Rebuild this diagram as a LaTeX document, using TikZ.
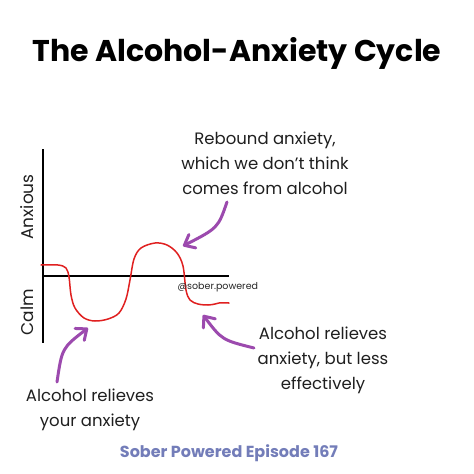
\documentclass[tikz,border=0pt]{standalone}
\usepackage{fontspec}
\setmainfont{Poppins}
\usetikzlibrary{arrows.meta}
\definecolor{curvered}{HTML}{E02020}
\definecolor{arrowpurple}{HTML}{9C4AAE}
\definecolor{episode}{HTML}{737DB9}
\tikzset{
  axisline/.style={line width=1.6pt, black},
  curveline/.style={line width=1.5pt, curvered, line cap=round, line join=round},
  callout/.style={line width=3pt, arrowpurple, line cap=round, -{Straight Barb[length=9pt,width=15pt,line width=3pt,round]}},
  label/.style={font=\fontsize{16.5}{25}\selectfont, align=center, text=black!88},
  axislabel/.style={font=\fontsize{17}{20}\selectfont, rotate=90, text=black!88},
}
\begin{document}
\begin{tikzpicture}[x=1pt,y=-1pt]
\useasboundingbox[fill=white] (0,0) rectangle (474,474);
% title
\node[font=\fontsize{30}{34}\selectfont\bfseries] (title) at (237,53) {The Alcohol-Anxiety Cycle};
% axes
\coordinate (ytop) at (43,149);
\coordinate (ybot) at (43,343);
\coordinate (xleft) at (43,276);
\coordinate (xright) at (229,276);
\draw[axisline] (ytop) -- (ybot);
\draw[axisline] (xleft) -- (xright);
\node[axislabel] (anx) at (27,207) {Anxious};
\node[axislabel] (calm) at (27,312) {Calm};
% curve
\draw[curveline] plot[smooth, tension=0.55] coordinates {
 (41,265) (58,265) (66,268) (69,277) (71,295) (75,308) (84,318) (95,321)
 (108,319) (119,313) (126,299) (130,280) (134,259) (141,248) (155,243)
 (167,245) (177,253) (183,266) (186,290) (190,300) (198,304) (208,305)
 (215,304) (219,303) (229,303)};
\node[font=\fontsize{9.5}{10}\selectfont, anchor=west, text=black!85] (handle) at (174,287) {@sober.powered};
% labels
\node[label] (rebound) at (265,163) {Rebound anxiety,\\which we don’t think\\comes from alcohol};
\node[label] (less) at (323,360) {Alcohol relieves\\anxiety, but less\\effectively};
\node[label] (relieves) at (90,410) {Alcohol relieves\\your anxiety};
\node[font=\fontsize{16}{20}\selectfont\bfseries, text=episode] (ep) at (229,453) {Sober Powered Episode 167};
% arrows
\coordinate (a1s) at (227,202); \coordinate (a1e) at (183,246);
\coordinate (a2s) at (254,348); \coordinate (a2e) at (203,315);
\coordinate (a3s) at (57,382); \coordinate (a3e) at (88,328);
\draw[callout] (a1s) .. controls (218,228) .. (a1e);
\draw[callout] (a2s) .. controls (222,340) .. (a2e);
\draw[callout] (a3s) .. controls (62,348) .. (a3e);
\end{tikzpicture}
\end{document}
